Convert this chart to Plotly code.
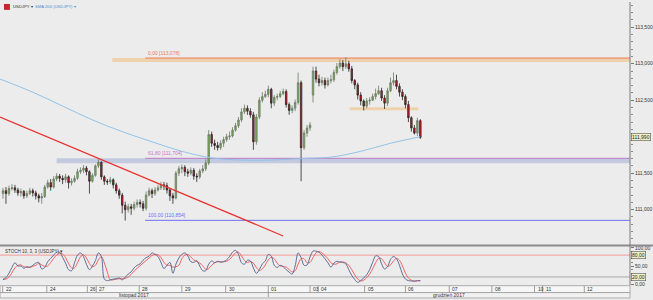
import plotly.graph_objects as go

# ---------------- data ----------------
opens = [111.22,111.26,111.22,111.29,111.30,111.27,111.23,111.25,111.19,111.22,
         111.26,111.23,111.19,111.16,111.18,111.31,111.37,111.31,111.42,111.46,
         111.43,111.41,111.45,111.37,111.39,111.43,111.52,111.54,111.57,111.52,
         111.39,111.47,111.60,111.65,111.45,111.39,111.38,111.41,111.34,111.26,
         111.20,111.06,111.00,111.04,111.02,111.07,111.10,111.08,111.02,111.20,
         111.26,111.22,111.27,111.30,111.34,111.33,111.27,111.19,111.16,111.50,
         111.56,111.58,111.52,111.50,111.54,111.46,111.45,111.53,111.56,111.64,
         112.03,111.91,111.88,111.85,111.91,111.96,112.00,112.01,112.09,112.15,
         112.23,112.34,112.39,112.35,112.30,111.93,112.27,112.50,112.55,112.58,
         112.65,112.46,112.54,112.55,112.59,112.62,112.44,112.36,112.39,112.47,
         112.74,111.85,112.05,112.12,112.57,112.90,112.79,112.74,112.77,112.71,
         112.77,112.78,112.88,112.96,113.01,112.96,113.00,112.93,112.77,112.71,
         112.57,112.49,112.42,112.49,112.50,112.55,112.59,112.63,112.53,112.46,
         112.63,112.74,112.77,112.69,112.61,112.55,112.44,112.26,112.12,112.05,
         112.22]
highs = [111.30,111.31,111.33,111.35,111.34,111.30,111.29,111.27,111.26,111.30,
         111.29,111.26,111.22,111.23,111.34,111.41,111.42,111.46,111.50,111.49,
         111.47,111.49,111.47,111.43,111.47,111.56,111.58,111.61,111.60,111.54,
         111.50,111.62,111.69,111.66,111.47,111.42,111.45,111.43,111.37,111.29,
         111.23,111.11,111.08,111.08,111.11,111.14,111.14,111.12,111.25,111.30,
         111.29,111.31,111.34,111.38,111.38,111.37,111.30,111.23,111.53,111.60,
         111.62,111.61,111.56,111.58,111.57,111.50,111.56,111.61,111.69,112.09,
         112.07,111.96,111.93,111.95,112.00,112.04,112.07,112.13,112.19,112.27,
         112.39,112.44,112.43,112.39,112.34,112.31,112.54,112.61,112.63,112.70,
         112.67,112.57,112.59,112.63,112.66,112.65,112.47,112.43,112.51,112.88,
         112.77,112.09,112.16,112.20,112.96,112.96,112.85,112.82,112.81,112.81,
         112.85,112.92,113.01,113.06,113.05,113.09,113.04,112.97,112.79,112.74,
         112.61,112.51,112.53,112.54,112.59,112.66,112.70,112.67,112.57,112.67,
         112.81,112.88,112.85,112.73,112.65,112.58,112.49,112.28,112.16,112.26,
         112.24]
lows = [111.15,111.08,111.19,111.26,111.23,111.19,111.18,111.15,111.16,111.20,
        111.18,111.14,111.10,111.08,111.16,111.29,111.26,111.29,111.39,111.38,
        111.35,111.37,111.29,111.33,111.37,111.41,111.49,111.50,111.47,111.22,
        111.37,111.45,111.57,111.41,111.34,111.34,111.35,111.29,111.22,111.15,
        110.95,110.85,110.96,110.93,110.99,111.03,111.03,110.98,110.99,111.18,
        111.16,111.19,111.25,111.27,111.27,111.22,111.12,111.08,111.14,111.46,
        111.50,111.46,111.45,111.47,111.41,111.38,111.42,111.50,111.53,111.61,
        111.86,111.82,111.81,111.82,111.86,111.93,111.96,111.99,112.07,112.12,
        112.20,112.31,112.30,112.26,111.82,111.89,112.24,112.47,112.53,112.54,
        112.39,112.42,112.50,112.53,112.57,112.40,112.30,112.32,112.35,112.44,
        111.39,111.82,112.00,112.08,112.47,112.74,112.69,112.70,112.66,112.69,
        112.73,112.75,112.85,112.93,112.90,112.93,112.89,112.73,112.65,112.51,
        112.43,112.36,112.39,112.44,112.49,112.51,112.57,112.49,112.38,112.42,
        112.61,112.70,112.65,112.55,112.50,112.39,112.20,112.07,112.03,112.01,
        111.97]
closes = [111.26,111.22,111.29,111.30,111.27,111.23,111.25,111.19,111.22,111.26,
          111.23,111.19,111.16,111.18,111.31,111.37,111.31,111.42,111.46,111.43,
          111.41,111.45,111.37,111.39,111.43,111.52,111.54,111.57,111.52,111.39,
          111.47,111.60,111.65,111.45,111.39,111.38,111.41,111.34,111.26,111.20,
          111.06,111.00,111.04,111.02,111.07,111.10,111.08,111.02,111.20,111.26,
          111.22,111.27,111.30,111.34,111.33,111.27,111.19,111.16,111.50,111.56,
          111.58,111.52,111.50,111.54,111.46,111.45,111.53,111.56,111.64,112.03,
          111.91,111.88,111.85,111.91,111.96,112.00,112.01,112.09,112.15,112.23,
          112.34,112.39,112.35,112.30,111.93,112.27,112.50,112.55,112.58,112.65,
          112.46,112.54,112.55,112.59,112.62,112.44,112.36,112.39,112.47,112.74,
          111.85,112.05,112.12,112.16,112.90,112.79,112.74,112.77,112.71,112.77,
          112.78,112.88,112.96,113.01,112.96,113.00,112.93,112.77,112.71,112.57,
          112.49,112.42,112.49,112.50,112.55,112.59,112.63,112.53,112.46,112.63,
          112.74,112.77,112.69,112.61,112.55,112.44,112.26,112.12,112.05,112.22,
          111.99]

sma_idx = [-1, 10, 20, 30, 40, 50, 60, 70, 80, 90, 100, 110, 120, 130, 140]
sma_vals = [112.79, 112.61, 112.42, 112.23, 112.07, 111.93, 111.80, 111.71,
            111.68, 111.68, 111.70, 111.72, 111.80, 111.91, 112.00]

stoch_k = [12,18,30,46,59,50,50,44,48,47,52,58,60,42,46,62,71,80,88,88,
           74,58,40,37,59,80,86,76,55,40,50,65,86,76,14,10,12,14,15,17,
           12,19,28,34,45,52,56,66,73,77,86,82,76,60,43,52,60,30,55,72,
           82,86,78,62,60,65,50,37,37,55,64,59,63,61,62,67,76,88,93,82,
           59,55,66,64,45,30,40,56,64,82,77,52,46,52,48,40,33,28,50,86,
           73,52,53,75,91,91,88,80,70,59,47,58,63,61,60,56,40,24,13,5,
           10,17,26,40,60,78,76,56,42,48,68,76,70,52,28,14,10,9,8,10,10]
stoch_d = [15,14,20,31,45,52,53,48,47,46,49,52,57,53,49,50,60,71,80,85,
           83,73,57,45,45,59,75,81,72,57,48,52,67,76,59,33,12,12,14,15,
           15,16,20,27,36,44,51,58,65,72,79,82,81,73,60,52,52,47,48,52,
           70,80,82,75,67,62,58,51,41,43,52,59,62,61,62,63,68,77,86,88,
           78,65,60,62,58,46,38,42,53,67,74,70,58,50,49,47,40,34,37,55,
           70,70,59,60,73,86,90,86,79,70,59,55,56,61,61,59,52,40,26,14,
           9,11,18,28,42,59,71,70,59,49,53,64,71,66,50,31,17,11,9,9,9]

fib_levels = [113.078, 111.704, 110.854]
fib_names = ["0,00 [113,078]", "61,80 [111,704]", "100,00 [110,854]"]
fib_colors = ["#f07a55", "#c27ac8", "#6f6ff0"]
fib_start = 47.7

zones = [  # (x0 idx, x1 idx, top, bottom, color)
    (36.7, 999, 113.078, 113.025, "rgba(240,205,160,0.85)"),
    (18.0, 999, 111.704, 111.635, "rgba(190,198,222,0.9)"),
    (116.3, 139.3, 112.405, 112.362, "rgba(240,205,160,0.85)"),
]
trend_idx = [-1, 94]
trend_price = [112.27, 110.64]

day_labels = ["22","24","26","27","28","29","30","01","03","04","05","06","07","08","10","11","12"]
day_start = [-0.1,14.7,28.3,31.3,45.7,60,74.7,89,103,105.7,121.3,135,149.7,164,178.3,181,195]
month_labels = ["listopad 2017", "grudzień 2017"]
month_bounds = [-1, 89, 210.3]

price_ticks = [111.0, 111.5, 112.0, 112.5, 113.0, 113.5]
last_price = closes[-1]

# ---------------- figure ----------------
W, H = 653, 300
XR = [-1, 210.33]
FONT = "Liberation Sans"

def py(px):
    return 1 - px / H

idx = list(range(len(closes)))
fig = go.Figure()

fig.add_trace(go.Candlestick(
    x=idx, open=opens, high=highs, low=lows, close=closes,
    increasing=dict(line=dict(color="#6d7a66", width=0.8), fillcolor="#72b050"),
    decreasing=dict(line=dict(color="#262626", width=0.8), fillcolor="#e3141b"),
    whiskerwidth=0, showlegend=False, hoverinfo="skip", xaxis="x", yaxis="y"))

fig.add_trace(go.Scatter(x=sma_idx, y=sma_vals, mode="lines",
                         line=dict(color="#93c3e8", width=1, shape="spline"),
                         showlegend=False, hoverinfo="skip", xaxis="x", yaxis="y"))
fig.add_trace(go.Scatter(x=trend_idx, y=trend_price, mode="lines",
                         line=dict(color="#e8322e", width=1.2),
                         showlegend=False, hoverinfo="skip", xaxis="x", yaxis="y"))

fig.add_trace(go.Scatter(x=idx, y=stoch_d, mode="lines",
                         line=dict(color="#f06262", width=1, shape="spline"),
                         showlegend=False, hoverinfo="skip", xaxis="x2", yaxis="y2"))
fig.add_trace(go.Scatter(x=idx, y=stoch_k, mode="lines",
                         line=dict(color="#5d6d96", width=1, shape="spline"),
                         showlegend=False, hoverinfo="skip", xaxis="x2", yaxis="y2"))

shapes = []
annotations = []

for x0, x1, top, bot, col in zones:
    shapes.append(dict(type="rect", xref="x", yref="y", x0=x0, x1=min(x1, XR[1]),
                       y0=bot, y1=top, fillcolor=col, line=dict(width=0), layer="below"))
for lvl, name, col in zip(fib_levels, fib_names, fib_colors):
    shapes.append(dict(type="line", xref="x", yref="y", x0=fib_start, x1=XR[1],
                       y0=lvl, y1=lvl, line=dict(color=col, width=1), layer="below"))
    annotations.append(dict(xref="x", yref="y", x=fib_start, y=lvl, text=name,
                            showarrow=False, xanchor="left", yanchor="bottom",
                            font=dict(size=5, color=col, family=FONT), xshift=1))

shapes.append(dict(type="line", xref="paper", yref="y2", x0=0, x1=1, y0=80, y1=80,
                   line=dict(color="#f19a9a", width=1), layer="below"))
shapes.append(dict(type="line", xref="paper", yref="y2", x0=0, x1=1, y0=20, y1=20,
                   line=dict(color="#a8a8a8", width=1), layer="below"))

shapes.append(dict(type="line", xref="paper", yref="paper", x0=0, x1=1.04,
                   y0=py(247.5), y1=py(247.5), line=dict(color="#8c8c8c", width=2)))
shapes.append(dict(type="line", xref="paper", yref="paper", x0=1, x1=1,
                   y0=py(288), y1=1, line=dict(color="#7a7a7a", width=1)))

shapes.append(dict(type="rect", xref="paper", yref="paper", x0=0, x1=1,
                   y0=py(295.5), y1=py(288.5), fillcolor="#f6f6f6",
                   line=dict(color="#9a9a9a", width=0.8)))
shapes.append(dict(type="rect", xref="paper", yref="paper", x0=0, x1=1,
                   y0=py(301), y1=py(295.5), fillcolor="#f1f1f1",
                   line=dict(color="#9a9a9a", width=0.8)))
for lab, d in zip(day_labels, day_start):
    shapes.append(dict(type="line", xref="x", yref="paper", x0=d, x1=d,
                       y0=py(295.5), y1=py(288.5), line=dict(color="#8a8a8a", width=0.8)))
    annotations.append(dict(xref="x", yref="paper", x=d, y=py(292), text=lab,
                            showarrow=False, xanchor="left", yanchor="middle", xshift=1,
                            font=dict(size=5, color="#333", family=FONT)))
for i, lab in enumerate(month_labels):
    a, b = month_bounds[i], month_bounds[i + 1]
    if i > 0:
        shapes.append(dict(type="line", xref="x", yref="paper", x0=a, x1=a,
                           y0=0, y1=py(295.5), line=dict(color="#8a8a8a", width=0.8)))
    annotations.append(dict(xref="x", yref="paper", x=(a + b) / 2, y=py(297.5), text=lab,
                            showarrow=False, xanchor="center", yanchor="middle",
                            font=dict(size=5, color="#333", family=FONT)))

# header
shapes.append(dict(type="rect", xref="paper", yref="paper", x0=4 / 634, x1=10 / 634,
                   y0=py(8), y1=py(2), fillcolor="#c4262c", line=dict(width=0)))
annotations.append(dict(xref="paper", yref="paper", x=11 / 634, y=py(5), text="USDJPY ▾",
                        showarrow=False, xanchor="left", yanchor="middle",
                        font=dict(size=4.2, color="#333", family=FONT)))
annotations.append(dict(xref="paper", yref="paper", x=33 / 634, y=py(5),
                        text="SMA 200 (USDJPY) ▾", showarrow=False, xanchor="left",
                        yanchor="middle", font=dict(size=4.2, color="#4a8fd0", family=FONT)))
annotations.append(dict(xref="paper", yref="paper", x=3 / 634, y=py(254),
                        text="STOCH 10, 3, 3 (USDJPY) ▾", showarrow=False, xanchor="left",
                        yanchor="middle", font=dict(size=4.5, color="#333", family=FONT)))

# price boxes
annotations.append(dict(xref="paper", yref="y", x=1, y=last_price,
                        text=f"{last_price:.3f}".replace(".", ","), showarrow=False,
                        xanchor="left", yanchor="middle", xshift=1,
                        bgcolor="#f1efc6", bordercolor="#555", borderwidth=0.6, borderpad=0.5,
                        font=dict(size=5, color="#222", family=FONT)))
for v in [80, 20]:
    annotations.append(dict(xref="paper", yref="y2", x=1, y=v,
                            text=f"{v:.2f}".replace(".", ","), showarrow=False,
                            xanchor="left", yanchor="middle", xshift=1,
                            bgcolor="#f1efc6", bordercolor="#555", borderwidth=0.6,
                            borderpad=0.5, font=dict(size=5, color="#222", family=FONT)))

# tick labels hidden where the price box covers them
tick_text = []
for v in price_ticks:
    if abs(v - last_price) < 0.08:
        tick_text.append("")
    else:
        tick_text.append(f"{v:.3f}".replace(".", ","))

fig.update_layout(
    width=W, height=H, margin=dict(l=0, r=19, t=0, b=0),
    paper_bgcolor="#ececec", plot_bgcolor="#ececec",
    font=dict(family=FONT, size=5, color="#333"),
    showlegend=False,
    xaxis=dict(domain=[0, 1], range=XR, visible=False, rangeslider=dict(visible=False),
               anchor="y"),
    xaxis2=dict(domain=[0, 1], range=XR, visible=False, anchor="y2", matches="x"),
    yaxis=dict(domain=[py(246), 1], range=[110.531, 113.846], side="right",
               tickmode="array", tickvals=price_ticks, ticktext=tick_text,
               ticks="outside", ticklen=3, tickcolor="#777", showgrid=False,
               zeroline=False, showline=False,
               minor=dict(tickmode="linear", tick0=0, dtick=0.1, ticks="outside",
                          ticklen=2, tickcolor="#888"),
               tickfont=dict(size=5, color="#333", family=FONT)),
    yaxis2=dict(domain=[py(287), py(249)], range=[0, 102.7], side="right",
                tickmode="array", tickvals=[0, 50, 100],
                ticktext=["0,00", "50,00", "100,00"],
                ticks="outside", ticklen=3, tickcolor="#777", showgrid=False,
                zeroline=False, showline=False,
                minor=dict(tickmode="linear", tick0=0, dtick=10, ticks="outside",
                           ticklen=2, tickcolor="#888"),
                tickfont=dict(size=5, color="#333", family=FONT)),
    shapes=shapes, annotations=annotations,
)

fig.write_html("out.html")
